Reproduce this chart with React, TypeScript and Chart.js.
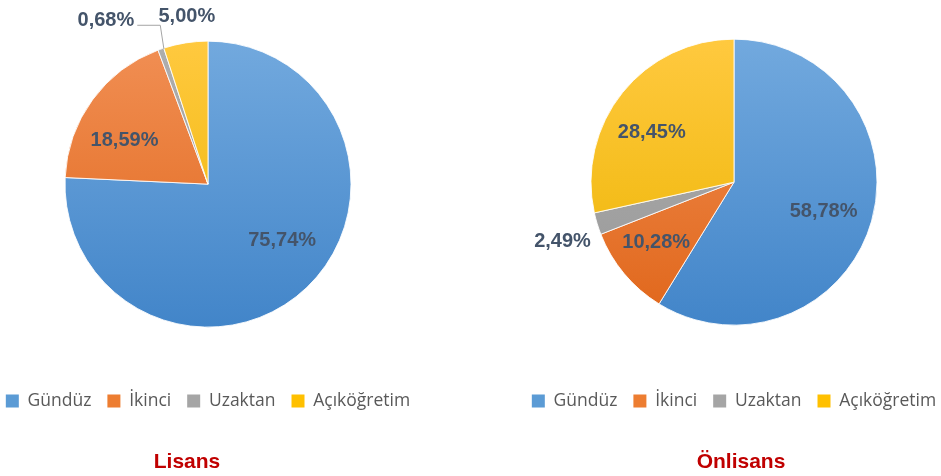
import { useEffect, useRef } from "react";
import { Chart, registerables } from "chart.js";

Chart.register(...registerables);

// ---- data ----
const categories = ["Gündüz", "İkinci", "Uzaktan", "Açıköğretim"];
const lisansValues = [75.74, 18.59, 0.68, 5.0];
const onlisansValues = [58.78, 10.28, 2.49, 28.45];
const chartTitles = ["Lisans", "Önlisans"];

// ---- styles ----
const baseColors = ["#5B9BD5", "#ED7D31", "#A5A5A5", "#FFC000"];
const topColors = ["#72A9DE", "#F18F54", "#AEAEAE", "#FFC93F"];
const bottomColors = ["#4285C9", "#E0661A", "#989898", "#ECB400"];
const PIE_RADIUS = 143;

type PieProps = {
  values: number[];
  title: string;
  titleX: number;
  titleY: number;
  width: number;
  height: number;
  left: number;
  top: number;
  padding: { left: number; right: number; top: number; bottom: number };
  fractions: number[];
  shifts: number[];
  leaders: boolean[];
};

const fmt = (v: number) => v.toFixed(2).replace(".", ",") + "%";

function PieChart(props: PieProps) {
  const ref = useRef<HTMLCanvasElement | null>(null);

  useEffect(() => {
    const { values, title, titleX, titleY, fractions, shifts, leaders } = props;

    const sliceLabels = {
      id: "sliceLabels",
      afterDatasetsDraw(chart: any) {
        const ctx = chart.ctx as CanvasRenderingContext2D;
        const meta = chart.getDatasetMeta(0);
        ctx.save();
        ctx.font = 'bold 20px "Liberation Sans", Arial, sans-serif';
        ctx.fillStyle = "#44546A";
        ctx.textAlign = "center";
        ctx.textBaseline = "middle";
        meta.data.forEach((arc: any, i: number) => {
          const { x, y, startAngle, endAngle, outerRadius } = arc.getProps(
            ["x", "y", "startAngle", "endAngle", "outerRadius"],
            true
          );
          const midRaw = (startAngle + endAngle) / 2;
          const mid = midRaw + (shifts[i] * Math.PI) / 180;
          const r = outerRadius * fractions[i];
          const lx = x + Math.cos(mid) * r;
          const ly = y + Math.sin(mid) * r;
          const text = fmt(values[i]);
          ctx.fillText(text, lx, ly);
          if (leaders[i]) {
            const w = ctx.measureText(text).width;
            const right = lx + w / 2;
            ctx.save();
            ctx.strokeStyle = "#A5A5A5";
            ctx.lineWidth = 1;
            ctx.beginPath();
            ctx.moveTo(x + Math.cos(midRaw) * outerRadius + 3, y + Math.sin(midRaw) * outerRadius);
            ctx.lineTo(right + 26, ly + 5);
            ctx.lineTo(right + 3, ly + 5);
            ctx.stroke();
            ctx.restore();
          }
        });
        ctx.restore();
      },
    };

    const bottomTitle = {
      id: "bottomTitle",
      afterDraw(chart: any) {
        const ctx = chart.ctx as CanvasRenderingContext2D;
        ctx.save();
        ctx.font = 'bold 21px "Liberation Sans", Arial, sans-serif';
        ctx.fillStyle = "#C00000";
        ctx.textAlign = "center";
        ctx.textBaseline = "middle";
        ctx.fillText(title, titleX, titleY);
        ctx.restore();
      },
    };

    const chart = new Chart(ref.current as HTMLCanvasElement, {
      type: "pie",
      data: {
        labels: categories,
        datasets: [
          {
            data: values,
            radius: PIE_RADIUS,
            borderWidth: 1,
            borderColor: "rgba(255,255,255,0.85)",
            backgroundColor: (c: any) => {
              const i = c.dataIndex ?? 0;
              const chartRef = c.chart;
              const area = chartRef.chartArea;
              if (!area) return baseColors[i];
              const cy = (area.top + area.bottom) / 2;
              const g = chartRef.ctx.createLinearGradient(0, cy - PIE_RADIUS, 0, cy + PIE_RADIUS);
              g.addColorStop(0, topColors[i]);
              g.addColorStop(1, bottomColors[i]);
              return g;
            },
          } as any,
        ],
      },
      options: {
        responsive: false,
        animation: false,
        devicePixelRatio: 1,
        layout: { padding: props.padding },
        plugins: {
          tooltip: { enabled: false },
          title: { display: false },
          legend: {
            display: true,
            position: "bottom",
            labels: {
              boxWidth: 13,
              boxHeight: 13,
              padding: 16,
              color: "#595959",
              font: { family: "Open Sans", size: 17.5 },
              generateLabels: (ch: any) =>
                (ch.data.labels as string[]).map((l, i) => ({
                  text: l,
                  fillStyle: baseColors[i],
                  strokeStyle: baseColors[i],
                  lineWidth: 0,
                  hidden: false,
                  index: i,
                  fontColor: "#595959",
                })),
            },
          },
        },
      } as any,
      plugins: [sliceLabels, bottomTitle],
    });
    return () => chart.destroy();
  }, []);

  return (
    <canvas
      ref={ref}
      width={props.width}
      height={props.height}
      style={{
        position: "absolute",
        left: props.left,
        top: props.top,
        width: props.width,
        height: props.height,
        display: "block",
      }}
    />
  );
}

export default function App() {
  return (
    <div
      style={{
        position: "absolute",
        left: 0,
        top: 0,
        width: 941,
        height: 476,
        background: "#ffffff",
        overflow: "hidden",
      }}
    >
      <PieChart
        values={lisansValues}
        title={chartTitles[0]}
        titleX={217}
        titleY={470}
        width={476}
        height={484}
        left={-30}
        top={-8}
        padding={{ left: 0, right: 0, top: 0, bottom: 56.25 }}
        fractions={[0.65, 0.66, 1.35, 1.18]}
        shifts={[-9.2, -8.3, -12.7, 1.8]}
        leaders={[false, false, true, false]}
      />
      <PieChart
        values={onlisansValues}
        title={chartTitles[1]}
        titleX={244}
        titleY={474}
        width={474}
        height={488}
        left={497}
        top={-12}
        padding={{ left: 0, right: 0, top: 0, bottom: 56.25 }}
        fractions={[0.66, 0.69, 1.27, 0.67]}
        shifts={[2.6, 1.9, -2.3, -7.9]}
        leaders={[false, false, false, false]}
      />
    </div>
  );
}
